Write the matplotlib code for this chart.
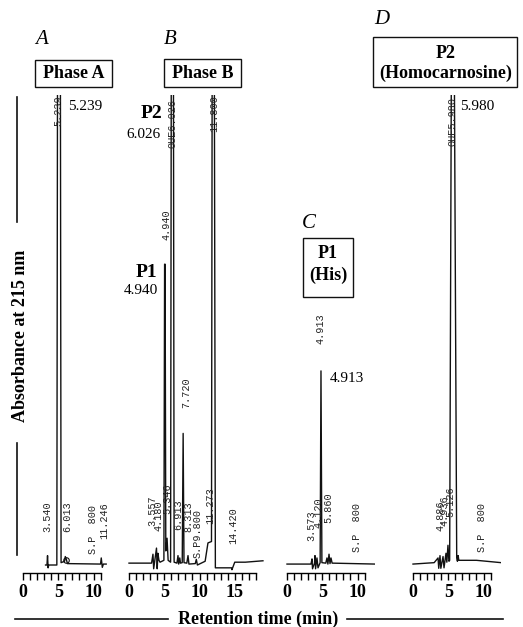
import matplotlib.pyplot as plt
from matplotlib.patches import Rectangle
from matplotlib.lines import Line2D
from matplotlib.ticker import FixedLocator, FuncFormatter

W, H = 523, 627
SERIF = 'Liberation Serif'
MONO = 'Liberation Mono'

# chromatogram traces: retention time (min) and absorbance (% of full scale)
a_t = [3.2, 3.4, 3.48, 3.56, 3.65, 4.8, 4.9, 5.3, 5.4, 5.9, 6.0, 6.15, 6.3, 11.0, 11.1, 11.25, 11.4, 11.8]
a_y = [0.0, 0.0, 2.0, -0.6, 0.0, 0.0, 110, 110, 0.5, 0.8, 1.8, 1.2, 0.3, 0.2, 1.5, -0.5, 0.2, 0.2]

b_t = [0.0, 3.2, 3.4, 3.5, 3.9, 4.0, 4.1, 4.25, 4.4, 4.95, 5.05, 5.12, 5.22, 5.4, 5.55,
       5.9, 6.0, 6.3, 6.4, 6.8, 6.95, 7.05, 7.2, 7.3, 7.55, 7.68, 7.8, 8.2, 8.37, 8.5,
       9.4, 9.55, 9.7, 10.8, 11.2, 11.7, 11.8, 12.1, 12.25, 14.55, 14.6, 15.0, 16.5, 19.0]
b_y = [0.4, 0.4, 2.3, -0.8, 3.6, -0.8, 2.5, 1.0, 0.6, 1.0, 64, 64, 3.0, 5.7, 1.0,
       0.6, 110, 110, 0.6, 0.4, 2.0, 0.2, 1.5, 0.4, 0.5, 28, 0.5, 0.4, 2.0, 0.2,
       0.3, 1.2, 0.0, 0.8, 4.7, 5.0, 110, 110, -0.6, -0.6, -1.0, 0.6, 0.6, 0.9]

c_t = [0.0, 3.4, 3.55, 3.62, 3.9, 3.97, 4.05, 4.25, 4.4, 4.7, 4.82, 4.95, 5.5, 5.67,
       5.8, 5.96, 6.1, 6.24, 6.4, 12.5]
c_y = [0.2, 0.2, 1.3, -0.8, 0.4, 2.0, -0.8, 1.5, -0.6, 0.5, 41.3, 0.5, 0.4, 1.5,
       0.2, 2.3, 0.3, 1.5, 0.4, 0.2]

d_t = [0.0, 3.0, 3.55, 3.65, 3.83, 3.95, 4.26, 4.4, 4.68, 4.8, 4.96, 5.1, 5.2, 5.45,
       5.85, 6.2, 6.3, 6.4, 6.5, 9.0, 12.5]
d_y = [0.2, 0.5, 1.5, -0.7, 2.0, -0.7, 1.8, -0.6, 2.5, 0.6, 4.2, 0.8, 1.0, 110,
       110, 1.5, 0.8, 2.0, 1.0, 1.0, 0.5]

# integrator print-out labels: text, x px, y centre px
prints = [
    ('5.239', 58, 111), ('3.540', 47, 517), ('6.013', 67, 517), ('S.P  800', 93, 530), ('11.246', 104, 521),
    ('OUE6.026', 173, 123), ('11.800', 214, 114), ('4.940', 167, 225), ('3.557', 152, 511),
    ('4.180', 159, 516), ('5.346', 167, 499), ('6.913', 178, 515), ('7.720', 186, 393),
    ('8.313', 188, 517), ('S.P9.800', 198, 533), ('11.273', 210, 506), ('14.420', 233, 526),
    ('4.913', 321, 329), ('3.573', 311, 526), ('4.120', 318, 513), ('5.860', 328, 508), ('S.P  800', 357, 528),
    ('OUE5.980', 452, 122), ('4.886', 440, 516), ('4.936', 445, 511), ('5.126', 450, 502), ('S.P  800', 482, 528),
]

fig = plt.figure(figsize=(W / 100, H / 100), dpi=100)


def fx(px):
    return px / W


def fy(py):
    return 1 - py / H


S = 7.05          # px per minute
Y_TOP, Y_BOT = 95, 573


def panel(x0, xmax, nt, t, y):
    xmin = -1.2
    ax = fig.add_axes([fx(x0 + xmin * S), fy(Y_BOT), (xmax - xmin) * S / W, (Y_BOT - Y_TOP) / H])
    ax.patch.set_alpha(0)
    ax.plot(t, y, color='#111111', lw=1.0)
    ax.set_xlim(xmin, xmax)
    ax.set_ylim(-1.7, 100)
    for side in ['top', 'left', 'right']:
        ax.spines[side].set_visible(False)
    ax.spines['bottom'].set_bounds(0, nt)
    ax.spines['bottom'].set_linewidth(1.0)
    ax.set_yticks([])
    ax.xaxis.set_major_locator(FixedLocator(range(nt + 1)))
    ax.xaxis.set_major_formatter(FuncFormatter(lambda v, p: '%d' % v if v % 5 == 0 else ''))
    ax.tick_params(axis='x', direction='out', length=5, width=1.0, pad=3)
    for lab in ax.get_xticklabels():
        lab.set_fontfamily(SERIF)
        lab.set_fontweight('bold')
        lab.set_fontsize(13)
    return ax


axA = panel(23, 12.5, 11, a_t, a_y)
axA.plot([6.1], [1.0], 'o', mfc='none', mec='#111111', ms=4, mew=0.8)
axB = panel(129, 19.3, 18, b_t, b_y)
axC = panel(287, 12.5, 11, c_t, c_y)
axD = panel(413, 12.5, 11, d_t, d_y)

for txt, x, y in prints:
    fig.text(fx(x), fy(y), txt, rotation=90, ha='center', va='center',
             family=MONO, fontsize=7.3, color='#222222')

# peak annotations
fig.text(fx(68), fy(106), '5.239', ha='left', va='center', family=SERIF, fontsize=11)
fig.text(fx(162), fy(114), 'P2', ha='right', va='center', family=SERIF, fontsize=14, fontweight='bold')
fig.text(fx(161), fy(134), '6.026', ha='right', va='center', family=SERIF, fontsize=11)
fig.text(fx(157), fy(273), 'P1', ha='right', va='center', family=SERIF, fontsize=14, fontweight='bold')
fig.text(fx(158), fy(291), '4.940', ha='right', va='center', family=SERIF, fontsize=11)
fig.text(fx(330), fy(378), '4.913', ha='left', va='center', family=SERIF, fontsize=11)
fig.text(fx(460), fy(107), '5.980', ha='left', va='center', family=SERIF, fontsize=11)

# panel letters
for letter, x, y in [('A', 42, 40), ('B', 170, 40), ('C', 309, 223), ('D', 382, 20)]:
    fig.text(fx(x), fy(y), letter, ha='center', va='center', family=SERIF, fontsize=15, style='italic')

# boxed titles
boxes = [(35, 112, 60, 87), (164, 241, 59, 87), (303, 353, 238, 297), (373, 517, 37, 87)]
for x1, x2, y1, y2 in boxes:
    fig.patches.append(Rectangle((fx(x1), fy(y2)), (x2 - x1) / W, (y2 - y1) / H,
                                 transform=fig.transFigure, fill=False, ec='#111111', lw=1.0))
bold = dict(ha='center', va='center', family=SERIF, fontsize=13, fontweight='bold')
fig.text(fx(73.5), fy(73.5), 'Phase A', **bold)
fig.text(fx(202.5), fy(73), 'Phase B', **bold)
fig.text(fx(328), fy(254), 'P1', **bold)
fig.text(fx(328), fy(275), '(His)', **bold)
fig.text(fx(446), fy(53), 'P2', **bold)
fig.text(fx(446), fy(73), '(Homocarnosine)', **bold)

# y axis label with split line
for y1, y2 in [(97, 222), (443, 555)]:
    fig.lines.append(Line2D([fx(17), fx(17)], [fy(y1), fy(y2)], transform=fig.transFigure, color='#111111', lw=1.2))
fig.text(fx(21), fy(336), 'Absorbance at 215 nm', rotation=90, **bold)

# x axis label with split line
for x1, x2 in [(15, 168), (347, 503)]:
    fig.lines.append(Line2D([fx(x1), fx(x2)], [fy(619), fy(619)], transform=fig.transFigure, color='#111111', lw=1.2))
fig.text(fx(258), fy(619), 'Retention time (min)', ha='center', va='center',
         family=SERIF, fontsize=13, fontweight='bold')

fig.savefig('out.png', dpi=100)
